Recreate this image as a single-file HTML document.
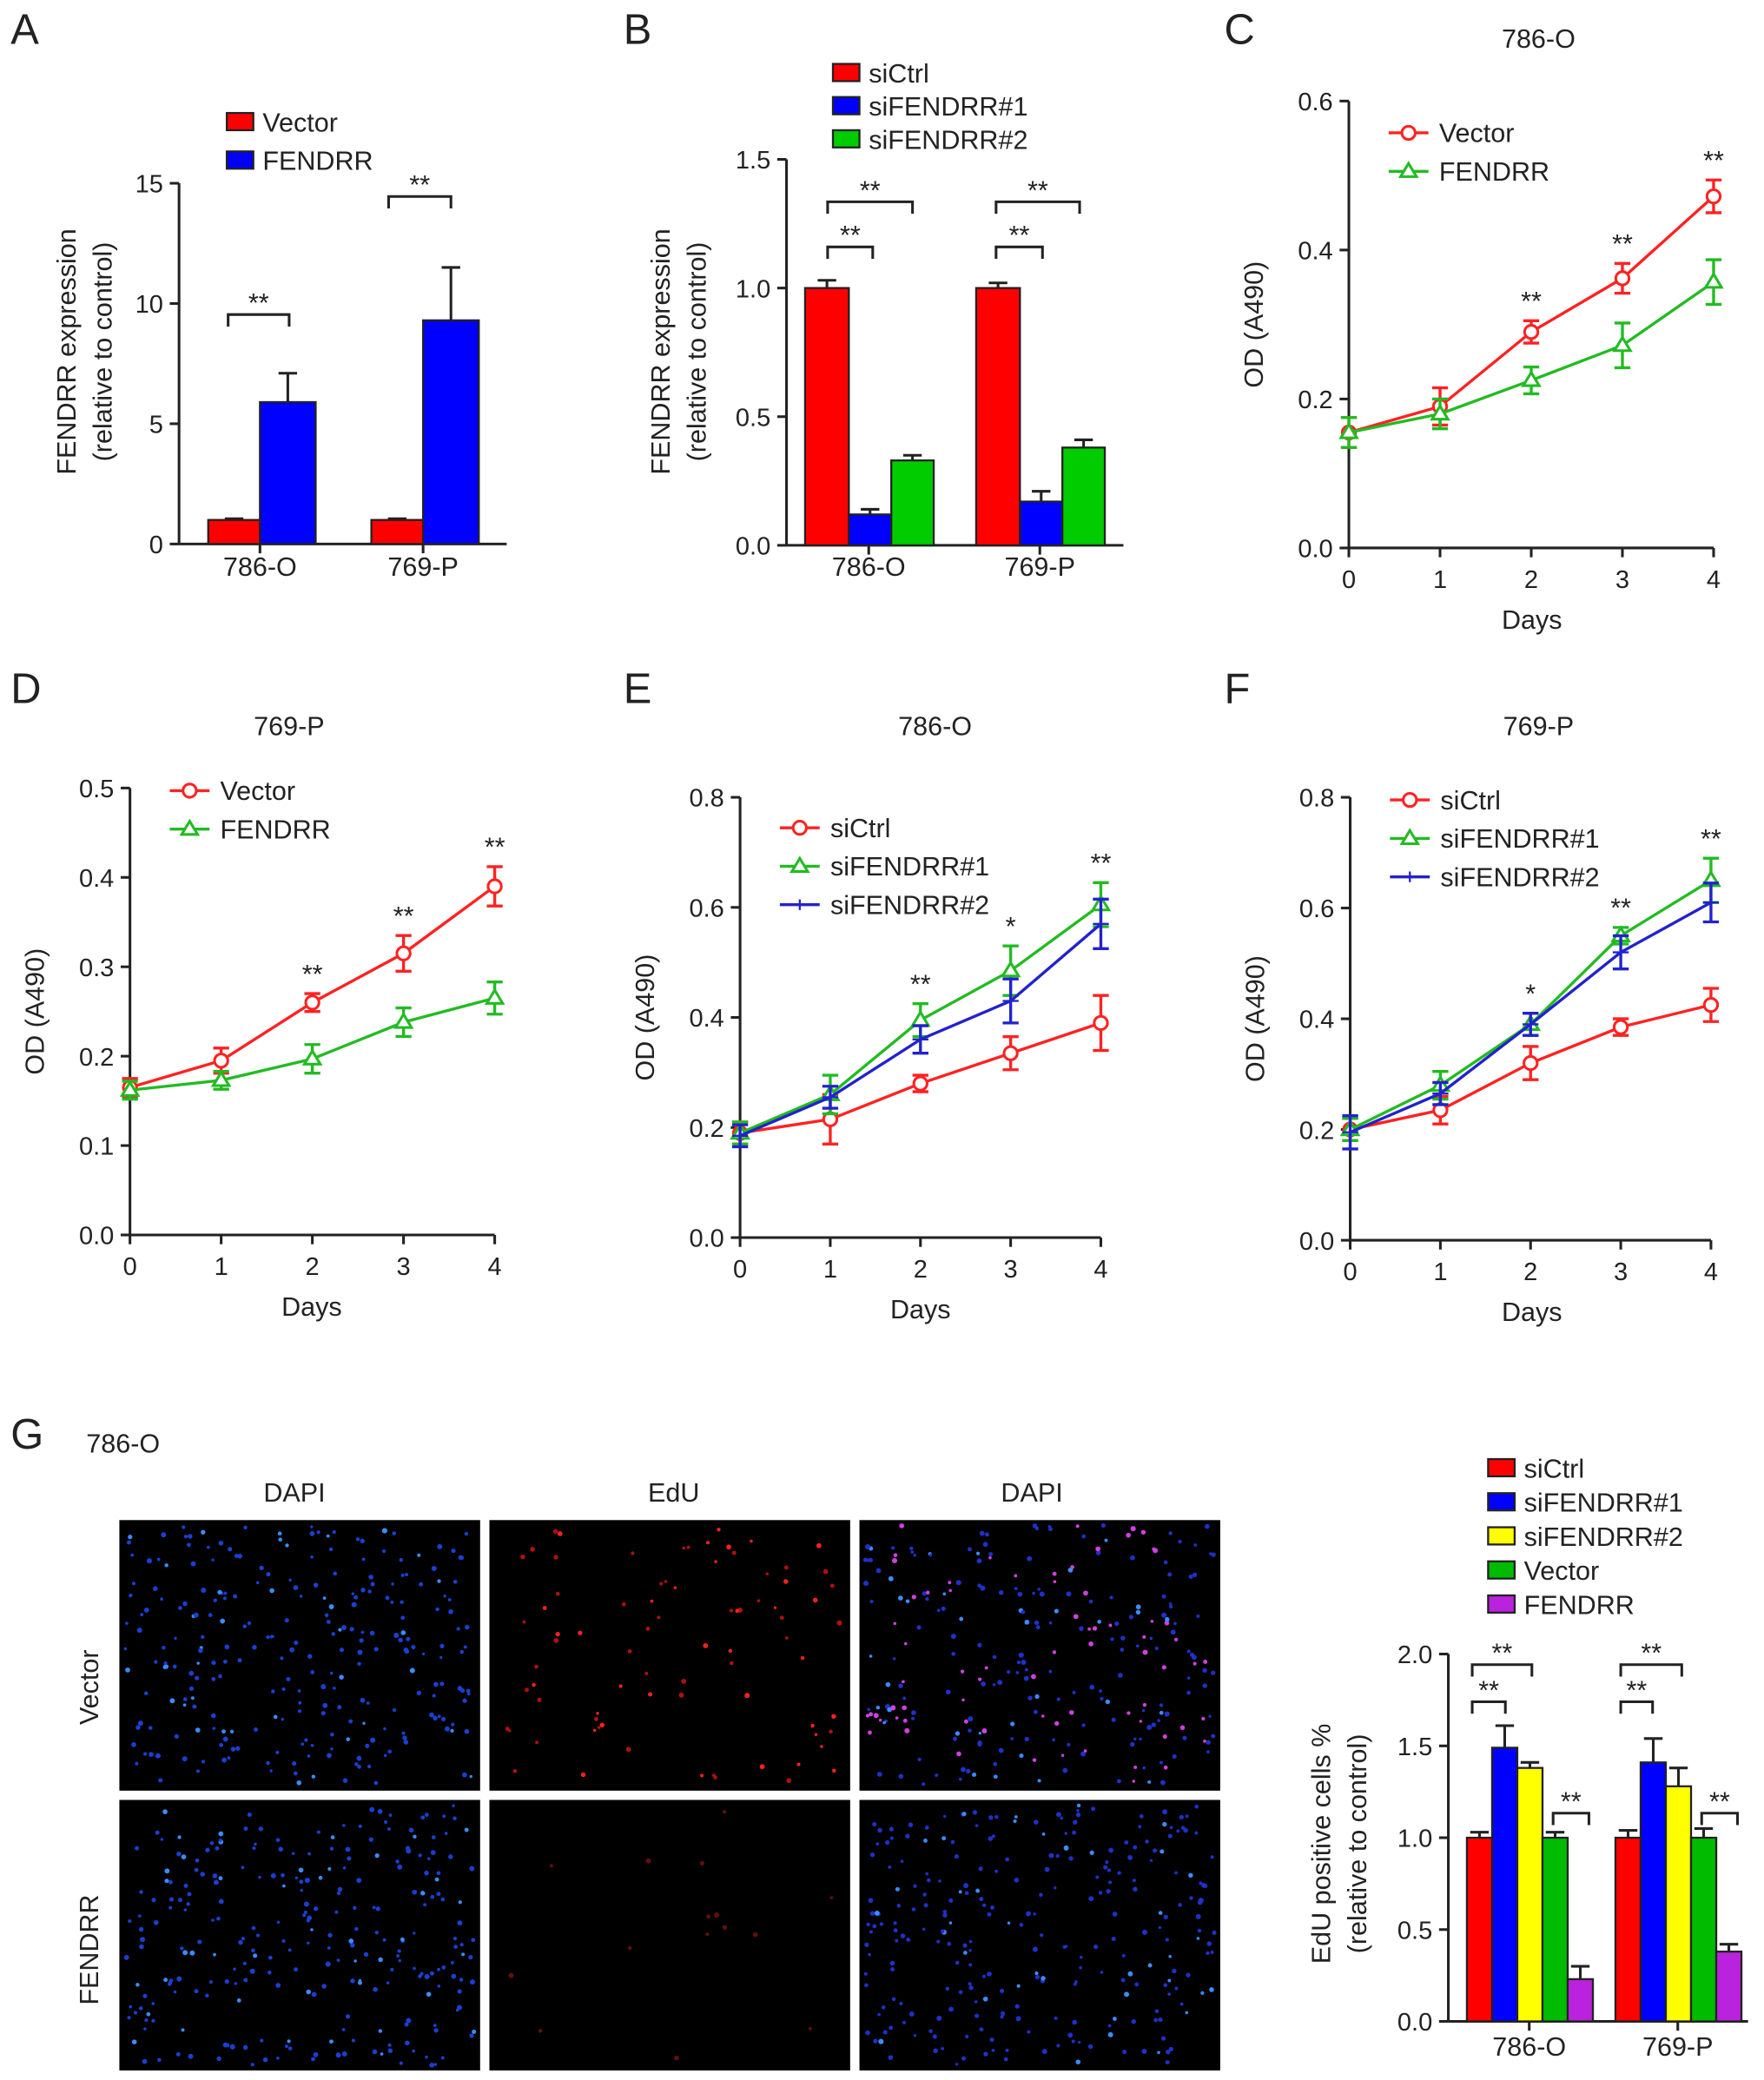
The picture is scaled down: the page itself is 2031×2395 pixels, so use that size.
<!DOCTYPE html>
<html><head><meta charset="utf-8"><style>
html,body{margin:0;padding:0;background:#fff}
svg{display:block}
text{font-family:"Liberation Sans",Arial,sans-serif;fill:#222}
</style></head><body>
<svg id="fig" xmlns="http://www.w3.org/2000/svg" width="2031" height="2395" viewBox="0 0 1330 1568"></svg>
<script>
// ---- Panel A data ----
const aCats = ["786-O","769-P"];
const aVector = [1.0, 1.0];
const aVectorErr = [0.05, 0.05];
const aFendrr = [5.9, 9.3];
const aFendrrErr = [1.2, 2.2];
const aTicks = [0,5,10,15];
// ---- Panel B data ----
const bCats = ["786-O","769-P"];
const bSiCtrl = [1.0, 1.0];
const bSiCtrlErr = [0.03, 0.02];
const bSi1 = [0.12, 0.17];
const bSi1Err = [0.02, 0.04];
const bSi2 = [0.33, 0.38];
const bSi2Err = [0.02, 0.03];
const bTicks = [0.0,0.5,1.0,1.5];
// ---- Line panels ----
const days = [0,1,2,3,4];
const cVector = [0.155,0.19,0.29,0.362,0.472];
const cVectorErr = [0.02,0.025,0.015,0.02,0.022];
const cFendrr = [0.155,0.18,0.225,0.272,0.357];
const cFendrrErr = [0.02,0.02,0.018,0.03,0.03];
const cTicks = [0.0,0.2,0.4,0.6];
const dVector = [0.165,0.195,0.26,0.315,0.39];
const dVectorErr = [0.01,0.014,0.01,0.02,0.022];
const dFendrr = [0.162,0.173,0.197,0.238,0.265];
const dFendrrErr = [0.01,0.01,0.016,0.016,0.018];
const dTicks = [0.0,0.1,0.2,0.3,0.4,0.5];
const eSiCtrl = [0.19,0.215,0.28,0.335,0.39];
const eSiCtrlErr = [0.02,0.045,0.015,0.03,0.05];
const eSi1 = [0.19,0.26,0.395,0.485,0.605];
const eSi1Err = [0.02,0.035,0.03,0.045,0.04];
const eSi2 = [0.185,0.255,0.36,0.43,0.57];
const eSi2Err = [0.02,0.02,0.025,0.04,0.045];
const eTicks = [0.0,0.2,0.4,0.6,0.8];
const fSiCtrl = [0.2,0.235,0.32,0.385,0.425];
const fSiCtrlErr = [0.02,0.025,0.03,0.015,0.03];
const fSi1 = [0.2,0.28,0.39,0.55,0.65];
const fSi1Err = [0.02,0.025,0.02,0.015,0.04];
const fSi2 = [0.195,0.265,0.39,0.52,0.61];
const fSi2Err = [0.03,0.02,0.02,0.03,0.035];
const fTicks = [0.0,0.2,0.4,0.6,0.8];
// ---- Panel G data ----
const gCats = ["786-O","769-P"];
const gSiCtrl = [1.0,1.0];
const gSi1 = [1.49,1.41];
const gSi2 = [1.38,1.28];
const gVector = [1.0,1.0];
const gFendrr = [0.23,0.38];
const gErr = [[0.03,0.12,0.03,0.03,0.07],[0.04,0.13,0.1,0.05,0.04]];
const gTicks = [0.0,0.5,1.0,1.5,2.0];

const NS="http://www.w3.org/2000/svg";
const svg=document.getElementById('fig');
function mk(tag,attrs,parent,txt){const e=document.createElementNS(NS,tag);for(const k in attrs)e.setAttribute(k,attrs[k]);if(txt!==undefined)e.textContent=txt;(parent||svg).appendChild(e);return e;}
function grp(name){const g=mk('g',{});


return g;}
function txt(p,x,y,s,size,anchor,name,rot){const t=mk('text',{x:x,y:y,'font-size':size,'text-anchor':anchor||'middle'},p,s);if(rot)t.setAttribute('transform',`rotate(-90 ${x} ${y})`);


return t;}
function line(p,x1,y1,x2,y2,col,w){return mk('line',{x1,y1,x2,y2,stroke:col||'#222','stroke-width':w||2},p);}
function yAxis(p,x,y0,y1,vmax,ticks,fmt,xEnd){
 const sc=v=>y0-(y0-y1)*v/vmax;
 const a=line(p,x,y0,x,y1);
 
 
 ticks.forEach(v=>{line(p,x-7,sc(v),x,sc(v));txt(p,x-12,sc(v)+7,fmt(v),19,'end','y-tick-label');});
 if(xEnd){const b=line(p,x,y0,xEnd,y0);
 
 }
 return sc;}
function bracket(p,x1,x2,y,stars){mk('path',{d:`M${x1} ${y+9}V${y}H${x2}V${y+9}`,fill:'none',stroke:'#222','stroke-width':2},p);txt(p,(x1+x2)/2,y-2,stars,20,'middle','significance-mark');}
function bar(p,x,w,sc,v,err,col,name){
 const r=mk('rect',{x:x,y:sc(v),width:w,height:sc(0)-sc(v),fill:col,stroke:'#222','stroke-width':1.5},p);
 
 
 line(p,x+w/2,sc(v),x+w/2,sc(v+err));line(p,x+w/2-7,sc(v+err),x+w/2+7,sc(v+err));}
function legBox(p,x,y,col,label,size){mk('rect',{x:x,y:y-7,width:20,height:13,fill:col,stroke:'#222','stroke-width':1.5},p);txt(p,x+27,y+7,label,size||20,'start','legend-entry');}

// panel letters
[["A",8,33],["B",470,33],["C",923,33],["D",8,530],["E",470,530],["F",923,530],["G",8,1092]].forEach(l=>txt(svg,l[1],l[2],l[0],32,'start','panel-label-'+l[0].toLowerCase()));

// ---- Panel A ----
{const p=grp('panel-a');
 const sc=yAxis(p,135,410,138,15,aTicks,v=>String(v),382);
 const gx=[157,280];
 aCats.forEach((c,i)=>{bar(p,gx[i],39,sc,aVector[i],aVectorErr[i],'#ff0000','bar-vector');bar(p,gx[i]+39,42,sc,aFendrr[i],aFendrrErr[i],'#0000ff','bar-fendrr');
  line(p,gx[i]+39,410,gx[i]+39,417);txt(p,gx[i]+39,434,c,20,'middle','x-tick-label');});
 bracket(p,172,218,237,'**');bracket(p,293,340,148,'**');
 txt(p,57,265,'FENDRR expression',20,'middle','y-axis-title',1);txt(p,84,265,'(relative to control)',20,'middle','y-axis-subtitle',1);
 legBox(p,171,92,'#ff0000','Vector');legBox(p,171,121,'#0000ff','FENDRR');}

// ---- Panel B ----
{const p=grp('panel-b');
 const sc=yAxis(p,593,411,120,1.5,bTicks,v=>v.toFixed(1),847);
 const gx=[607,736];
 bCats.forEach((c,i)=>{bar(p,gx[i],33,sc,bSiCtrl[i],bSiCtrlErr[i],'#ff0000','bar-sictrl');bar(p,gx[i]+33,32,sc,bSi1[i],bSi1Err[i],'#0000ff','bar-sifendrr1');bar(p,gx[i]+65,32,sc,bSi2[i],bSi2Err[i],'#00cc00','bar-sifendrr2');
  line(p,gx[i]+48,411,gx[i]+48,418);txt(p,gx[i]+48,434,c,20,'middle','x-tick-label');});
 bracket(p,624,658,186,'**');bracket(p,624,688,152,'**');bracket(p,751,786,186,'**');bracket(p,751,814,152,'**');
 txt(p,505,265,'FENDRR expression',20,'middle','y-axis-title',1);txt(p,532,265,'(relative to control)',20,'middle','y-axis-subtitle',1);
 legBox(p,628,55,'#ff0000','siCtrl');legBox(p,628,80,'#0000ff','siFENDRR#1');legBox(p,628,105,'#00cc00','siFENDRR#2');}

// ---- line panel helper ----
function linePanel(name,title,tx,ax,x4,y0,y1,vmax,ticks,series,stars,legX,legY,titleX,titleY){
 const p=grp(name);
 const sc=yAxis(p,ax,y0,y1,vmax,ticks,v=>v.toFixed(1));
 const xs=d=>ax+(x4-ax)*d/4;
 const xa=line(p,ax,y0,x4,y0);
 
 
 days.forEach(d=>{line(p,xs(d),y0,xs(d),y0+7);txt(p,xs(d),y0+30,String(d),19,'middle','x-tick-label');});
 txt(p,tx,y0+61,'Days',20,'middle','x-axis-title');
 txt(p,titleX,titleY,title,20,'middle','panel-title');
 txt(p,ax-65,(y0+y1)/2,'OD (A490)',20,'middle','y-axis-title',1);
 series.forEach((s,si)=>{
  const pts=days.map((d,i)=>xs(d)+','+sc(s.v[i])).join(' ');
  const pl=mk('polyline',{points:pts,fill:'none',stroke:s.c,'stroke-width':2.2},p);
  
  
  days.forEach((d,i)=>{const x=xs(d),v=s.v[i],e=s.e[i];
   line(p,x,sc(v-e),x,sc(v+e),s.c,2.2);line(p,x-6,sc(v-e),x+6,sc(v-e),s.c,2.2);line(p,x-6,sc(v+e),x+6,sc(v+e),s.c,2.2);
   marker(p,s.m,x,sc(v),s.c,s.n);});
  const ly=legY+si*29;
  line(p,legX,ly,legX+30,ly,s.c,2.2);marker(p,s.m,legX+15,ly,s.c,'legend-marker');
  txt(p,legX+38,ly+7,s.label,20,'start','legend-entry');});
 stars.forEach((st,i)=>{if(!st)return;const top=Math.max(...series.map(s=>s.v[i]+s.e[i]));txt(p,xs(i),sc(top)-8,st,20,'middle','significance-mark');});
}
function marker(p,m,x,y,c,n){let e;
 if(m==='o')e=mk('circle',{cx:x,cy:y,r:5,fill:'#fff',stroke:c,'stroke-width':2},p);
 else if(m==='t')e=mk('path',{d:`M${x} ${y-6}L${x+6} ${y+4}L${x-6} ${y+4}Z`,fill:'#fff',stroke:c,'stroke-width':2},p);
 else e=mk('path',{d:`M${x-6} ${y}H${x+6}M${x} ${y-4}V${y+4}`,fill:'none',stroke:c,'stroke-width':1.5},p);
 
 }

linePanel('panel-c','786-O',1155,1017,1292,413,76,0.6,cTicks,
 [{v:cVector,e:cVectorErr,c:'#ff2222',m:'o',n:'vector',label:'Vector'},{v:cFendrr,e:cFendrrErr,c:'#22bb22',m:'t',n:'fendrr',label:'FENDRR'}],
 [null,null,'**','**','**'],1047,100,1160,36);
linePanel('panel-d','769-P',235,98,373,931,594,0.5,dTicks,
 [{v:dVector,e:dVectorErr,c:'#ff2222',m:'o',n:'vector',label:'Vector'},{v:dFendrr,e:dFendrrErr,c:'#22bb22',m:'t',n:'fendrr',label:'FENDRR'}],
 [null,null,'**','**','**'],128,596,218,554);
linePanel('panel-e','786-O',694,558,830,933,601,0.8,eTicks,
 [{v:eSiCtrl,e:eSiCtrlErr,c:'#ff2222',m:'o',n:'sictrl',label:'siCtrl'},{v:eSi1,e:eSi1Err,c:'#22bb22',m:'t',n:'sifendrr1',label:'siFENDRR#1'},{v:eSi2,e:eSi2Err,c:'#2222cc',m:'p',n:'sifendrr2',label:'siFENDRR#2'}],
 [null,null,'**','*','**'],588,624,705,554);
linePanel('panel-f','769-P',1155,1018,1290,935,601,0.8,fTicks,
 [{v:fSiCtrl,e:fSiCtrlErr,c:'#ff2222',m:'o',n:'sictrl',label:'siCtrl'},{v:fSi1,e:fSi1Err,c:'#22bb22',m:'t',n:'sifendrr1',label:'siFENDRR#1'},{v:fSi2,e:fSi2Err,c:'#2222cc',m:'p',n:'sifendrr2',label:'siFENDRR#2'}],
 [null,null,'*','**','**'],1048,603,1160,554);

// ---- Panel G images ----
{const p=grp('panel-g-images');
 txt(p,65,1095,'786-O',20,'start','cell-line-label');
 txt(p,222,1132,'DAPI',20,'middle','column-label');txt(p,508,1132,'EdU',20,'middle','column-label');txt(p,778,1132,'DAPI',20,'middle','column-label');
 txt(p,74,1272,'Vector',20,'middle','row-label',1);txt(p,74,1470,'FENDRR',20,'middle','row-label',1);
 let seed=12345;const rnd=()=>{seed=(seed*1103515245+12345)%2147483648;return seed/2147483648;};
 const cols=[90,369,648],rows=[1146,1357];
 rows.forEach((ry,ri)=>cols.forEach((cx,ci)=>{
  const r=mk('rect',{x:cx,y:ry,width:272,height:204,fill:'#000'},p);
  
  
  const n= ci===1 ? (ri===0?80:15) : 260;
  for(let k=0;k<n;k++){const x=cx+4+rnd()*264,y=ry+4+rnd()*196;let c;
   if(ci===0)c=rnd()>0.85?'#3a8cff':'#1b3fd0';
   else if(ci===1)c=ri===0?(rnd()>0.5?'#ff2020':'#b01010'):'#601010';
   else c=(ri===0&&rnd()>0.75)?'#d040e0':(rnd()>0.85?'#3a8cff':'#2030c8');
   mk('circle',{cx:x,cy:y,r:1.1+rnd()*0.9,fill:c},p);}
 }));}

// ---- Panel G bar chart ----
{const p=grp('panel-g-chart');
 const sc=yAxis(p,1092,1524,1247,2.0,gTicks,v=>v.toFixed(1),1318);
 const gx=[1106,1218],w=19;
 const series=[gSiCtrl,gSi1,gSi2,gVector,gFendrr];
 const colors=['#ff0000','#0000ff','#ffff00','#00bb00','#bb22dd'];
 const names=['bar-sictrl','bar-sifendrr1','bar-sifendrr2','bar-vector','bar-fendrr'];
 gCats.forEach((c,i)=>{series.forEach((s,k)=>bar(p,gx[i]+k*w,w,sc,s[i],gErr[i][k],colors[k],names[k]));
  line(p,gx[i]+47,1524,gx[i]+47,1531);txt(p,gx[i]+47,1550,c,20,'middle','x-tick-label');});
 bracket(p,1110,1155,1255,'**');bracket(p,1110,1135,1283,'**');bracket(p,1171,1198,1367,'**');
 bracket(p,1222,1268,1255,'**');bracket(p,1222,1246,1283,'**');bracket(p,1283,1310,1367,'**');
 txt(p,1003,1390,'EdU positive cells %',20,'middle','y-axis-title',1);txt(p,1030,1390,'(relative to control)',20,'middle','y-axis-subtitle',1);
 ['siCtrl','siFENDRR#1','siFENDRR#2','Vector','FENDRR'].forEach((l,k)=>legBox(p,1122,1107+k*25.7,colors[k],l));}
</script>
</body></html>
